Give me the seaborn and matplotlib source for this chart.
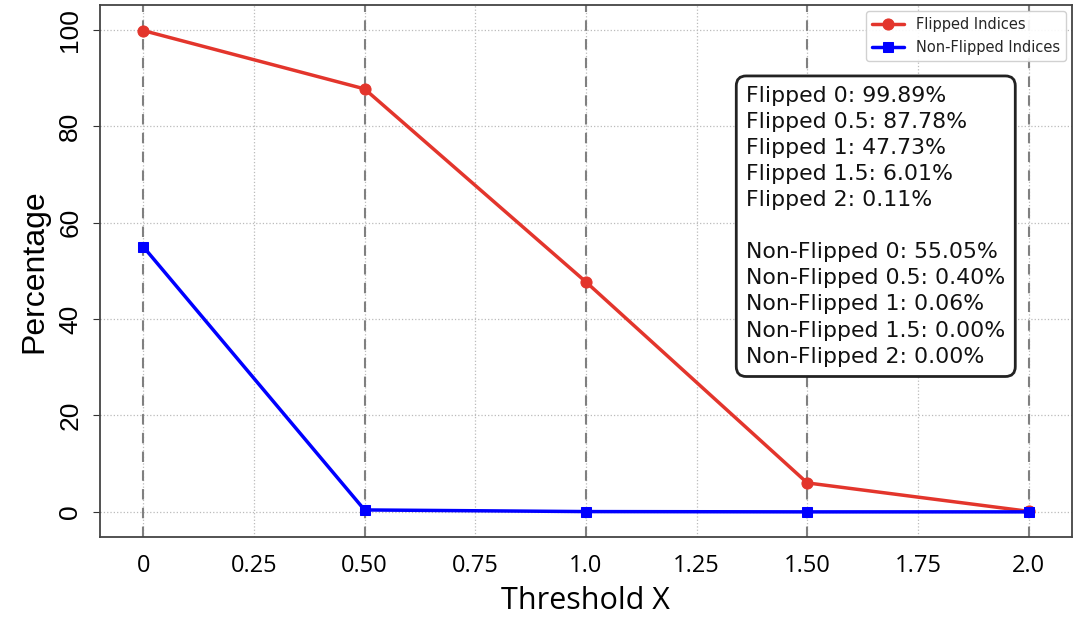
import numpy as np
import pandas as pd
import matplotlib
matplotlib.use("Agg")
import matplotlib.pyplot as plt
import seaborn as sns

# ============================
# Data
# ============================

thresholds = [0, 0.5, 1.0, 1.5, 2.0]
flipped = [99.89, 87.78, 47.73, 6.01, 0.11]
non_flipped = [55.05, 0.40, 0.06, 0.00, 0.00]

xtick_pos = [0, 0.25, 0.5, 0.75, 1.0, 1.25, 1.5, 1.75, 2.0]
xtick_labels = ["0", "0.25", "0.50", "0.75", "1.0", "1.25", "1.50", "1.75", "2.0"]
ytick_pos = [0, 20, 40, 60, 80, 100]

# ============================
# Plot
# ============================

sns.set_style("ticks")
plt.rcParams['font.family'] = ['DejaVu Sans']

fig, ax = plt.subplots(figsize=(10.78, 6.2), dpi=100)
fig.subplots_adjust(left=0.093, right=0.994, top=0.992, bottom=0.134)

for t in thresholds:
    ax.axvline(t, color='gray', linestyle='--', linewidth=1.5, dashes=(5, 4), zorder=1)

df = pd.DataFrame({"x": thresholds, "flipped": flipped, "non_flipped": non_flipped})

sns.lineplot(data=df, x="x", y="flipped", ax=ax, color='#e3352c', marker='o',
             markersize=8, markeredgecolor='#e3352c', linewidth=2.5,
             label="Flipped Indices", zorder=3)
sns.lineplot(data=df, x="x", y="non_flipped", ax=ax, color='blue', marker='s',
             markersize=7, markeredgecolor='blue', linewidth=2.5,
             label="Non-Flipped Indices", zorder=3)

ax.set_xlim(-0.097, 2.097)
ax.set_ylim(-5.2, 105.2)
ax.set_xticks(xtick_pos)
ax.set_xticklabels(xtick_labels, fontsize=17, family='Open Sans', color='black')
ax.set_yticks(ytick_pos)
ax.set_yticklabels([str(v) for v in ytick_pos], fontsize=19, rotation=90,
                   va='center', family='Liberation Sans', color='black')
ax.tick_params(axis='x', length=0, pad=12)
ax.tick_params(axis='y', length=5, pad=8, color='#333333')

ax.grid(True, linestyle=':', color='#bbbbbb', linewidth=0.9)
ax.set_axisbelow(True)
for s in ax.spines.values():
    s.set_color('#444444')
    s.set_linewidth(1.3)

ax.set_xlabel("Threshold X", fontsize=22, family='Open Sans', labelpad=6, color='black')
ax.set_ylabel("Percentage", fontsize=23, family='Liberation Sans', labelpad=6, color='black')

ax.legend(loc='upper right', fontsize=10.5, frameon=True, framealpha=0.9,
          edgecolor='#cccccc', handlelength=2.2, labelspacing=0.6, borderaxespad=0.4)

lines = [f"Flipped {t:g}: {v:.2f}%" for t, v in zip(thresholds, flipped)]
lines += [""]
lines += [f"Non-Flipped {t:g}: {v:.2f}%" for t, v in zip(thresholds, non_flipped)]
ax.text(0.665, 0.848, "\n".join(lines), transform=ax.transAxes, fontsize=15.8,
        va='top', ha='left', linespacing=1.38, color='#111111',
        bbox=dict(boxstyle='round,pad=0.45', facecolor='white', edgecolor='#222222',
                  linewidth=2))

plt.savefig("out.png", dpi=100)
